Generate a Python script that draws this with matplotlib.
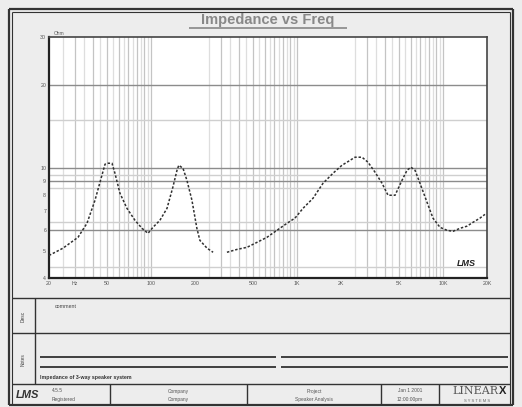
import numpy as np
import matplotlib
matplotlib.use("Agg")
import matplotlib.pyplot as plt

plt.rcParams['font.family'] = ['Liberation Sans', 'DejaVu Sans']

# Impedance sweep (Hz, Ohm); NaN marks a break in the trace
freq_hz = [20, 24.9, 31.6, 36.4, 41.3, 46.1, 48.4, 50.7, 54, 56.6, 61.2, 68.4, 77.6,
           86.7, 95.3, 103, 115, 128.6, 141, 150.6, 155, 165.6, 176, 190.6, 206, 216,
           242, 266, 300, 331, 388, 454, 532, 622, 728, 854, 968, 1098, 1286, 1506,
           1762, 2032, 2198, 2494, 2786, 3062, 3420, 3820, 4200, 4690, 5237, 5670,
           6026, 6425, 6952, 7763, 8530, 9528, 10640, 11700, 13060, 14590, 16030,
           17900, 19370]
impedance_ohm = [4.83, 5.13, 5.62, 6.32, 7.66, 9.45, 10.36, 10.44, 10.44, 9.6, 8.13,
                 7.16, 6.48, 6.06, 5.81, 6.11, 6.48, 7.16, 8.54, 9.85, 10.27, 10.0,
                 9.06, 7.66, 6.06, 5.48, 5.13, 4.96, np.nan, 4.96, 5.08, 5.17, 5.39,
                 5.62, 5.96, 6.32, 6.6, 7.16, 7.79, 8.83, 9.6, 10.27, 10.53, 10.98,
                 10.98, 10.53, 9.69, 8.83, 7.99, 7.99, 9.06, 9.85, 10.1, 9.85, 8.83,
                 7.54, 6.6, 6.11, 5.96, 5.91, 6.06, 6.17, 6.37, 6.6, 6.81]

x_tick_values = [20, 30, 50, 100, 200, 500, 1000, 2000, 5000, 10000, 20000]
x_tick_labels = ["20", "Hz", "50", "100", "200", "500", "1K", "2K", "5K", "10K", "20K"]
y_tick_values = [30, 20, 10, 9, 8, 7, 6, 5, 4]
y_tick_labels = ["30", "20", "10", "9", "8", "7", "6", "5", "4"]
h_grid_dark = [20, 10, 9, 6]
h_grid_light = [15, 9.5, 8.5, 6.4, 4.4]

W, H = 522, 407
fig = plt.figure(figsize=(W / 100, H / 100), dpi=100)
fig.patch.set_facecolor("#ededed")

# page layer in pixel coordinates
page = fig.add_axes([0, 0, 1, 1], zorder=0)
page.set_xlim(0, W)
page.set_ylim(H, 0)
page.axis("off")

def hline(y, x0, x1, lw=1.0, c="#333333"):
    page.plot([x0, x1], [y, y], color=c, lw=lw, solid_capstyle="butt")

def vline(x, y0, y1, lw=1.0, c="#333333"):
    page.plot([x, x], [y0, y1], color=c, lw=lw, solid_capstyle="butt")

# outer double frame
L, R, T, B = 9, 513, 9, 405
for off, lw in [(0, 1.6), (3, 0.8)]:
    hline(T + off, L + off, R - off, lw)
    vline(L + off, T + off, B, lw)
    vline(R - off, T + off, B, lw)
hline(B, L, R, 1.6)

# note panels
hline(298, L + 3, R - 3, 1.0)
hline(333, L + 3, R - 3, 1.0)
hline(384, L + 3, R - 3, 1.0)
vline(35, 298, 384, 1.0)
for yy in (357, 367):
    hline(yy, 40, 276, 1.2, "#222222")
    hline(yy, 281, 508, 1.2, "#222222")
page.text(23, 316, "Desc", rotation=90, fontsize=3.5, ha="center", va="center", color="#444444")
page.text(23, 360, "Notes", rotation=90, fontsize=3.5, ha="center", va="center", color="#444444")
page.text(55, 307, "comment", fontsize=3.8, ha="left", va="center", color="#444444")
page.text(40, 377, "Impedance of 3-way speaker system", fontsize=3.8, ha="left", va="center",
          color="#333333", fontweight="bold")

# title block
for xx in (110, 247, 381, 439):
    vline(xx, 384, B, 1.0)
page.text(16, 395, "LMS", fontsize=8, fontstyle="italic", fontweight="bold", ha="left",
          va="center", color="#333333")
page.text(52, 391, "4.5.5", fontsize=3.5, ha="left", va="center", color="#555555")
page.text(52, 399, "Registered", fontsize=3.5, ha="left", va="center", color="#555555")
page.text(178, 391, "Company", fontsize=3.5, ha="center", va="center", color="#555555")
page.text(178, 399, "Company", fontsize=3.5, ha="center", va="center", color="#555555")
page.text(314, 391, "Project", fontsize=3.5, ha="center", va="center", color="#555555")
page.text(314, 399, "Speaker Analysis", fontsize=3.5, ha="center", va="center", color="#555555")
page.text(410, 391, "Jan 1 2001", fontsize=3.5, ha="center", va="center", color="#555555")
page.text(410, 399, "12:00:00pm", fontsize=3.5, ha="center", va="center", color="#555555")
page.text(475, 391, "LINEAR", fontsize=8, family="DejaVu Serif", ha="center", va="center",
          color="#555555")
page.text(503, 391, "X", fontsize=8, fontweight="bold", ha="center", va="center", color="#222222")
page.text(477, 401, "S Y S T E M S", fontsize=3, ha="center", va="center", color="#666666")

# title
page.text(268, 20, "Impedance vs Freq", fontsize=10.5, fontweight="bold", ha="center",
          va="center", color="#888888")
hline(27.5, 189, 347, 1.2, "#888888")

# chart
ax = fig.add_axes([49 / W, 1 - 278 / H, (487 - 49) / W, (278 - 37) / H], zorder=1)
ax.set_facecolor("white")
ax.set_xscale("log")
ax.set_yscale("log")
ax.set_xlim(20, 20000)
ax.set_ylim(4, 30)

# vertical grid: every 5 units inside each decade
for dec in (10, 100, 1000, 10000):
    for k in np.arange(2.5, 10.01, 0.5):
        f = k * dec
        if f <= 20 or f >= 20000:
            continue
        c = "#c4c4c4" if float(k).is_integer() else "#dedede"
        ax.axvline(f, color=c, lw=0.9, zorder=1)
for v in h_grid_light:
    ax.axhline(v, color="#cfcfcf", lw=1.0, zorder=1)
for v in h_grid_dark:
    ax.axhline(v, color="#8c8c8c", lw=1.0, zorder=1)

ax.plot(freq_hz, impedance_ohm, color="#303030", lw=1.1, linestyle=(0, (1.6, 1.2)), zorder=3)

ax.set_xticks(x_tick_values)
ax.set_xticklabels(x_tick_labels)
ax.set_yticks(y_tick_values)
ax.set_yticklabels(y_tick_labels)
ax.xaxis.set_minor_locator(matplotlib.ticker.NullLocator())
ax.yaxis.set_minor_locator(matplotlib.ticker.NullLocator())
ax.tick_params(length=0, labelsize=3.8, labelcolor="#555555", pad=2)

for s in ("left", "bottom"):
    ax.spines[s].set_linewidth(1.6)
    ax.spines[s].set_color("#222222")
for s in ("top", "right"):
    ax.spines[s].set_linewidth(1.2)
    ax.spines[s].set_color("#444444")

ax.text(0.01, 1.005, "Ohm", transform=ax.transAxes, fontsize=3.5, color="#555555",
        ha="left", va="bottom")
ax.text(0.975, 0.04, "LMS", transform=ax.transAxes, fontsize=6.5, fontstyle="italic",
        fontweight="bold", color="#222222", ha="right", va="bottom", zorder=4)

fig.savefig("out.png", dpi=100, facecolor=fig.get_facecolor())
